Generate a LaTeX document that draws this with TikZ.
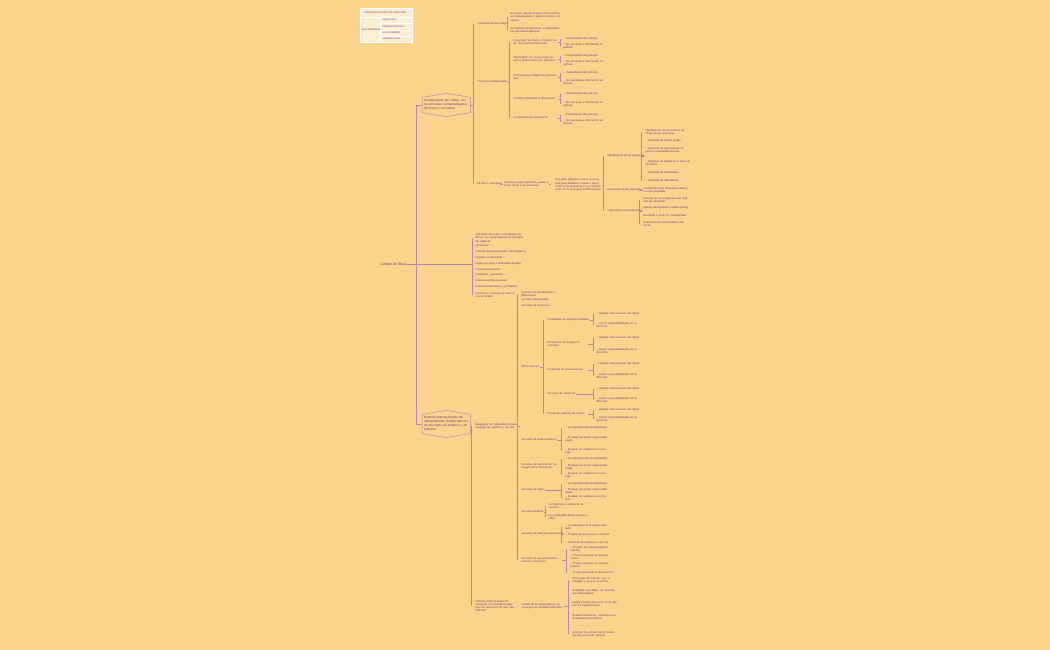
\documentclass[tikz,border=0pt]{standalone}
\usepackage{fontspec}
\setmainfont{Liberation Sans}
\usetikzlibrary{calc}
\definecolor{bg}{HTML}{FAD38C}
\definecolor{tx}{HTML}{6A3C86}
\definecolor{ln}{HTML}{B088B0}
\tikzset{
 t/.style={anchor=west,inner sep=0.4pt,text=tx,font=\fontsize{2.7}{3.3}\selectfont,align=left},
 w/.style={t,text width=#1pt},
 conn/.style={draw=ln,line width=0.5pt},
 hexa/.style={t,text width=44pt,font=\fontsize{3.2}{3.9}\selectfont,inner sep=2pt}
}
\newcommand\brk[4]{\coordinate (bxx) at (#2,0);
 \draw[conn] (#1.east) -- (bxx |- #1.east);
 \draw[conn] (bxx |- #3.west) -- (bxx |- #4.west);}
\newcommand\hexdraw[1]{\draw[ln,line width=0.5pt] (#1.south west) -- (#1.north west) -- ($(#1.north)+(0,-4)$) -- (#1.north east) -- (#1.south east) -- ($(#1.south)+(0,4)$) -- cycle;}
\begin{document}
\begin{tikzpicture}[x=1pt,y=-1pt]
\fill[bg] (0,0) rectangle (1050,650);
\useasboundingbox (0,0) rectangle (1050,650);
% table
\fill[white!60!bg] (360,8) rectangle (412,42);
\draw[white,line width=0.5pt] (360,8) rectangle (412,42) (360,17)--(412,17) (380,17)--(380,42) (380,23.5)--(412,23.5) (380,30)--(412,30) (380,36)--(412,36);
\node[t,font=\fontsize{2.4}{3}\selectfont] (th) at (363,12.5) {TRABAJO EN EQUIPO DE AUDITORÍA};
\node[t,font=\fontsize{2.4}{3}\selectfont] (ts) at (361,29.5) {SUPERVISORES};
\node[t,font=\fontsize{2.4}{3}\selectfont] (t1) at (382,20) {VERA CRUZ};
\node[t,font=\fontsize{2.4}{3}\selectfont] (t2) at (382,27) {PERALTA BUSTOS};
\node[t,font=\fontsize{2.4}{3}\selectfont] (t3) at (382,33) {ALAN URBANO};
\node[t,font=\fontsize{2.4}{3}\selectfont] (t4) at (382,39) {PAREDES PAEZ};
% root
\node[t,font=\fontsize{3.6}{4}\selectfont] (root) at (380,264) {Código de Ética};
\coordinate (mx) at (416,0);
\draw[conn] (root.east) -- (mx |- root.east);
% hexagons
\node[hexa] (h1) at (422,105) {Cumplimiento del código, de los principios fundamentales y del marco conceptual};
\hexdraw{h1}
\node[hexa] (h2) at (422,424) {Normas internacionales de independencia (Independencia en encargos de auditoría y de revisión)};
\hexdraw{h2}
\draw[conn] (mx |- h1.west) -- (mx |- h2.west);
\draw[conn] (mx |- h1.west) -- (h1.west);
\draw[conn] (mx |- h2.west) -- (h2.west);
% root list
\node[w=48] (r1) at (475,238) {Aplicación del marco conceptual a auditores con independencia en encargos de auditoría};
\node[t] (r2) at (475,246) {Honorarios};
\node[t] (r3) at (475,252) {Políticas de remuneración y de evaluación};
\node[t] (r4) at (475,258) {Regalos e invitaciones};
\node[t] (r5) at (475,264) {Litigios en curso o amenazas de litigio};
\node[t] (r6) at (475,270) {Intereses financieros};
\node[t] (r7) at (475,275) {Préstamos y garantías};
\node[t] (r8) at (475,281) {Relaciones empresariales};
\node[t] (r9) at (475,287) {Relaciones familiares y personales};
\node[w=42] (r10) at (475,295) {Relaciones recientes de servicio con un cliente};
\coordinate (rx) at (472,0);
\draw[conn] (mx |- root.east) -- (rx |- root.east);
\draw[conn] (rx |- r1.west) -- (rx |- r10.west);
% h1 children
\node[t] (c1) at (477,24) {Cumplimiento del código};
\node[t] (c2) at (477,82) {Principios fundamentales};
\node[t] (c3) at (477,184) {El marco conceptual};
\brk{h1}{473}{c1}{c3}
\node[w=52] (c1a) at (510,17) {El auditor deberá cumplir con los principios fundamentales y aplicar el marco conceptual};
\node[w=52] (c1b) at (510,30) {Se incluyen disposiciones y requerimientos que deben aplicarse};
\brk{c1}{507}{c1a}{c1b}
% principios
\node[w=44] (p1) at (513,42) {Integridad: Ser franco y honesto en las relaciones profesionales};
\node[w=44] (p2) at (513,59) {Objetividad: No comprometer los juicios profesionales por prejuicios};
\node[w=44] (p3) at (513,77) {Competencia y diligencia profesionales};
\node[w=44] (p4) at (513,99) {Confidencialidad de la información};
\node[w=44] (p5) at (513,118) {Comportamiento profesional};
\brk{c2}{509}{p1}{p5}
\foreach \p/\ya/\yb in {p1/39/46,p2/56/63,p3/73/82,p4/94/104,p5/115/122}{
 \node[w=46] (\p a) at (563,\ya) {-- Cumplimiento del principio};
 \node[w=46] (\p b) at (563,\yb) {-- No asociarse a información engañosa};
 \brk{\p}{560}{\p a}{\p b}
}
% marco conceptual
\node[w=44] (m1) at (504,184) {Requisitos para identificar, evaluar y hacer frente a las amenazas};
\brk{c3}{500}{m1}{m1}
\node[w=46] (m2) at (555,185) {El auditor aplicará el marco conceptual para identificar, evaluar y hacer frente a las amenazas en el cumplimiento de los principios fundamentales};
\brk{m1}{551}{m2}{m2}
\node[t] (g1) at (607,156) {Identificación de las amenazas};
\node[t] (g2) at (607,190) {Evaluación de las amenazas};
\node[t] (g3) at (607,211) {Hacer frente a las amenazas};
\brk{m2}{603}{g1}{g3}
\node[w=46] (g1a) at (645,132) {Identificación de los factores de riesgo de las amenazas};
\node[w=46] (g1b) at (645,141) {-- Amenaza de interés propio};
\node[w=46] (g1c) at (645,150) {-- Amenaza de autorrevisión de juicios o actividades previas};
\node[w=46] (g1d) at (645,163) {-- Amenaza de abogacía en favor de un cliente};
\node[w=46] (g1e) at (645,173) {-- Amenaza de familiaridad};
\node[w=46] (g1f) at (645,181) {-- Amenaza de intimidación};
\brk{g1}{641}{g1a}{g1f}
\node[w=46] (g2a) at (643,190) {Determinar si las amenazas están a un nivel aceptable};
\brk{g2}{639}{g2a}{g2a}
\node[w=46] (g3a) at (643,200) {Eliminar las circunstancias que originan las amenazas};
\node[w=46] (g3b) at (643,208) {Aplicar salvaguardas cuando existan};
\node[w=46] (g3c) at (643,216) {Rechazar o poner fin a la actividad};
\node[w=46] (g3d) at (643,224) {Evaluación de la idoneidad profesional};
\brk{g3}{639}{g3a}{g3d}
% h2 children
\node[w=44] (s1) at (475,426) {Requisitos de independencia para encargos de auditoría y revisión};
\node[w=40] (s2) at (475,606) {Informes sobre Estados Financieros con finalidad específica con restricción de uso y distribución};
\brk{h2}{471}{s1}{s2}
% requisitos children
\node[w=40] (q1) at (521,294) {Servicios de fundamentos y definiciones};
\node[t] (q2) at (521,300) {Servicios relacionados};
\node[t] (q3) at (521,306) {Servicios de honorarios};
\node[t] (q4) at (521,367) {Otros servicios};
\node[t] (q5) at (521,440) {Servicios de auditoría interna};
\node[w=40] (q6) at (521,466) {Servicios de sistemas de Tecnología de la Información};
\node[t] (q7) at (521,490) {Servicios de litigios};
\node[t] (q8) at (521,512) {Servicios jurídicos};
\node[t] (q9) at (521,534) {Servicios de selección de personal};
\node[w=40] (q10) at (521,560) {Servicios de asesoramiento financiero corporativo};
\brk{s1}{517}{q1}{q10}
% otros servicios
\node[t] (o1) at (547,320) {Preparación de registros contables};
\node[w=40] (o2) at (547,344) {Preparación de Estados Financieros};
\node[w=40] (o3) at (547,370) {Prestación de asesoría fiscal};
\node[t] (o4) at (547,394) {Servicios de valoración};
\node[w=40] (o5) at (547,414) {Diseño de sistemas de control};
\brk{q4}{543}{o1}{o5}
\foreach \o/\ya/\yb in {o1/314/325,o2/338/351,o3/364/376,o4/389/400,o5/410/419}{
 \node[w=44] (\o a) at (596,\ya) {-- Aprobar transacciones del cliente};
 \node[w=44] (\o b) at (596,\yb) {-- Asumir responsabilidades de la dirección};
 \brk{\o}{593}{\o a}{\o b}
}
\foreach \q/\ya/\yb/\yc in {q5/428/439/451,q6/459/467/475,q7/484/491/498}{
 \node[w=44] (\q a) at (565,\ya) {-- La naturaleza de las actividades};
 \node[w=44] (\q b) at (565,\yb) {-- El riesgo de asumir responsabilidades};
 \node[w=44] (\q c) at (565,\yc) {-- El grado de confianza en el trabajo};
 \brk{\q}{561}{\q a}{\q c}
}
\node[w=44] (q8a) at (548,506) {La importancia relativa de la cuestión};
\node[w=44] (q8b) at (548,517) {La complejidad de la cuestión jurídica};
\brk{q8}{545}{q8a}{q8b}
\node[w=44] (q9a) at (565,527) {-- La naturaleza de la ayuda solicitada};
\node[w=44] (q9b) at (565,535) {-- El papel de la persona a contratar};
\node[w=44] (q9c) at (565,543) {-- Conflictos de intereses o relación};
\brk{q9}{561}{q9a}{q9c}
\node[w=44] (qa) at (570,549) {-- El grado de asesoramiento financiero};
\node[w=44] (qb) at (570,557) {-- El asesoramiento en transacciones};
\node[w=44] (qc) at (570,565) {-- El asesoramiento en reestructuración};
\node[w=44] (qd) at (570,573) {-- El asesoramiento en financiación};
\brk{q10}{566}{qa}{qd}
% final branch
\node[w=42] (f1) at (521,606) {Límites de la independencia en encargos con finalidad específica};
\brk{s2}{517}{f1}{f1}
\node[w=46] (f1a) at (572,580) {Elementos del informe: uso restringido a usuarios previstos};
\node[w=46] (f1b) at (572,592) {Entidades vinculadas: no necesita ser independiente};
\node[w=46] (f1c) at (572,604) {Redes y firmas de la red: no se aplican los requerimientos};
\node[w=46] (f1d) at (572,617) {Estados financieros: se aplica a los destinatarios del informe};
\node[w=46] (f1e) at (572,634) {Relación de servicio con el cliente durante el periodo cubierto};
\brk{f1}{568}{f1a}{f1e}
\end{tikzpicture}
\end{document}
